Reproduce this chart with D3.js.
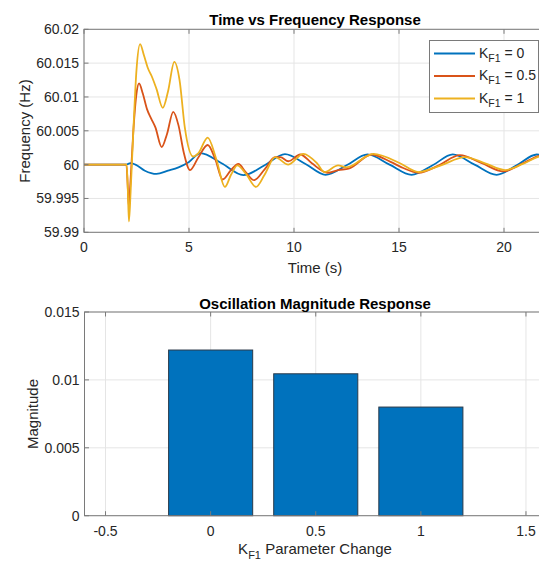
<!DOCTYPE html>
<html>
<head>
<meta charset="utf-8">
<script src="https://cdn.jsdelivr.net/npm/d3@7"></script>
<style>
  html, body { margin: 0; padding: 0; background: #fff; }
  svg { display: block; font-family: "Liberation Sans", Arial, Helvetica, sans-serif; }
</style>
</head>
<body>
<svg id="fig" width="539" height="563"></svg>
<script>
// ---- Frequency response for three K_F1 settings (time in s, frequency in Hz) ----
const timeKF0 = [0, 2.0, 2.1, 2.2, 2.45, 2.9, 3.45, 4.0, 4.5, 5.0, 5.55, 6.55, 7.59, 8.6, 9.57, 10.55, 11.5, 12.5, 13.5, 14.55, 15.6, 16.6, 17.56, 18.6, 19.65, 20.6, 21.56, 22];
const freqKF0 = [60, 60, 60.0001, 60.00022, 60.0000, 59.9991, 59.99862, 59.9991, 59.9996, 60.0004, 60.0017, 60.0002, 59.99845, 59.9999, 60.00155, 60.0001, 59.9985, 59.9999, 60.00152, 60.0000, 59.9985, 59.9999, 60.00152, 60.0000, 59.9985, 59.9999, 60.0015, 60.0013];

const timeKF05 = [0, 2.02, 2.08, 2.13, 2.2, 2.35, 2.5, 2.62, 2.8, 3.0, 3.2, 3.4, 3.7, 3.95, 4.25, 4.5, 4.75, 5.05, 5.45, 5.89, 6.25, 6.6, 7.0, 7.35, 7.7, 8.1, 8.6, 9.1, 9.35, 9.73, 10.3, 10.85, 11.6, 12.1, 12.6, 13.7, 14.6, 15.2, 15.92, 16.9, 17.9, 18.95, 19.97, 20.9, 21.7, 22];
const freqKF05 = [60, 60, 59.997, 59.9939, 59.9968, 60.005, 60.0105, 60.012, 60.0105, 60.0082, 60.0068, 60.0055, 60.0026, 60.0045, 60.0078, 60.0058, 60.0018, 59.9992, 60.0011, 60.0029, 60.0008, 59.9978, 59.9992, 60.0001, 59.9989, 59.9977, 59.9993, 60.0011, 60.0011, 60.0005, 60.0015, 60.0002, 59.9988, 59.9992, 59.9994, 60.0015, 60.0004, 59.9995, 59.9988, 59.9999, 60.0014, 60.0002, 59.9990, 60.0002, 60.0013, 60.0014];

const timeKF1 = [0, 2.03, 2.09, 2.14, 2.22, 2.35, 2.5, 2.67, 2.85, 3.05, 3.22, 3.45, 3.75, 4.0, 4.3, 4.55, 4.8, 5.2, 5.45, 5.89, 6.3, 6.71, 7.0, 7.3, 7.7, 8.19, 8.6, 9.1, 9.73, 10.44, 11.1, 11.45, 12.1, 12.5, 13.78, 15.05, 15.92, 17.0, 18.14, 19.1, 20.05, 20.9, 21.7, 22];
const freqKF1 = [60, 60, 59.996, 59.9916, 59.996, 60.005, 60.014, 60.0178, 60.0162, 60.0142, 60.0131, 60.0112, 60.0084, 60.0108, 60.0152, 60.0125, 60.0055, 60.0012, 60.0017, 60.004, 60.0008, 59.9967, 59.9985, 59.9999, 59.9987, 59.9967, 59.9985, 60.0011, 60.0000, 60.0016, 60.0002, 59.9989, 59.9999, 59.9996, 60.0016, 60.0002, 59.9989, 59.9999, 60.0011, 60.0002, 59.9992, 60.0001, 60.0012, 60.0013];

const seriesLabels = ["0", "0.5", "1"];
const seriesColors = ["#0072BD", "#D95319", "#EDB120"];

const timeTicks = [0, 5, 10, 15, 20];
const freqTicks = [59.99, 59.995, 60, 60.005, 60.01, 60.015, 60.02];
const freqTickLabels = ["59.99", "59.995", "60", "60.005", "60.01", "60.015", "60.02"];

// ---- Oscillation magnitude per K_F1 ----
const kf1Values = [0, 0.5, 1];
const magnitudes = [0.0122, 0.01045, 0.0080];
const kTicks = [-0.5, 0, 0.5, 1, 1.5];
const kTickLabels = ["-0.5", "0", "0.5", "1", "1.5"];
const magTicks = [0, 0.005, 0.01, 0.015];
const magTickLabels = ["0", "0.005", "0.01", "0.015"];

const svg = d3.select("#fig");
const axisColor = "#262626";
const boxColor = "#7a7a7a";
const gridColor = "#e5e5e5";
const tickLen = 4.5;

svg.append("rect").attr("width", 539).attr("height", 563).attr("fill", "#fff");

// Light grid lines behind the data.
function drawGrid(g, x, y, xt, yt) {
  const [x0, x1] = x.range();
  const [y0, y1] = y.range(); // y0 bottom, y1 top
  g.append("g").selectAll("line").data(xt).join("line")
    .attr("x1", d => x(d)).attr("x2", d => x(d)).attr("y1", y0).attr("y2", y1)
    .attr("stroke", gridColor).attr("stroke-width", 1);
  g.append("g").selectAll("line").data(yt).join("line")
    .attr("x1", x0).attr("x2", x1).attr("y1", d => y(d)).attr("y2", d => y(d))
    .attr("stroke", gridColor).attr("stroke-width", 1);
}

// Box outline, inward ticks on all four sides, and tick labels.
function drawBoxAndTicks(g, x, y, xt, xtl, yt, ytl) {
  const [x0, x1] = x.range();
  const [y0, y1] = y.range();
  const tk = g.append("g").attr("stroke", boxColor).attr("stroke-width", 1);
  tk.append("g").selectAll("line").data(xt).join("line")
    .attr("x1", d => x(d)).attr("x2", d => x(d)).attr("y1", y0).attr("y2", y0 - tickLen);
  tk.append("g").selectAll("line").data(xt).join("line")
    .attr("x1", d => x(d)).attr("x2", d => x(d)).attr("y1", y1).attr("y2", y1 + tickLen);
  tk.append("g").selectAll("line").data(yt).join("line")
    .attr("x1", x0).attr("x2", x0 + tickLen).attr("y1", d => y(d)).attr("y2", d => y(d));
  tk.append("g").selectAll("line").data(yt).join("line")
    .attr("x1", x1).attr("x2", x1 - tickLen).attr("y1", d => y(d)).attr("y2", d => y(d));
  g.append("rect").attr("x", x0).attr("y", y1).attr("width", x1 - x0).attr("height", y0 - y1)
    .attr("fill", "none").attr("stroke", boxColor).attr("stroke-width", 1);

  g.append("g").selectAll("text").data(xt).join("text")
    .attr("x", d => x(d)).attr("y", y0 + 20)
    .attr("text-anchor", "middle").attr("font-size", 14).attr("fill", axisColor)
    .text((d, i) => xtl[i]);
  g.append("g").selectAll("text").data(yt).join("text")
    .attr("x", x0 - 5).attr("y", d => y(d) + 5)
    .attr("text-anchor", "end").attr("font-size", 14).attr("fill", axisColor)
    .text((d, i) => ytl[i]);
}

// ================= Top: time vs frequency =================
const xT = d3.scaleLinear().domain([0, 22]).range([84, 546]);
const yT = d3.scaleLinear().domain([59.99, 60.02]).range([232.3, 29.3]);
const topPanel = svg.append("g");
drawGrid(topPanel, xT, yT, timeTicks, freqTicks);

topPanel.append("clipPath").attr("id", "clipTop").append("rect")
  .attr("x", 84).attr("y", 29.3).attr("width", 462).attr("height", 203);

const seriesData = [
  d3.zip(timeKF0, freqKF0),
  d3.zip(timeKF05, freqKF05),
  d3.zip(timeKF1, freqKF1)
];
const line = d3.line().x(d => xT(d[0])).y(d => yT(d[1])).curve(d3.curveMonotoneX);
topPanel.append("g").attr("clip-path", "url(#clipTop)")
  .selectAll("path").data(seriesData).join("path")
  .attr("d", line).attr("fill", "none")
  .attr("stroke", (d, i) => seriesColors[i]).attr("stroke-width", 1.8)
  .attr("stroke-linejoin", "round");

drawBoxAndTicks(topPanel, xT, yT, timeTicks, timeTicks.map(String), freqTicks, freqTickLabels);

topPanel.append("text").attr("x", 315).attr("y", 25).attr("text-anchor", "middle")
  .attr("font-size", 15).attr("font-weight", "bold").attr("fill", "#000")
  .text("Time vs Frequency Response");
topPanel.append("text").attr("x", 315).attr("y", 273).attr("text-anchor", "middle")
  .attr("font-size", 15).attr("fill", axisColor).text("Time (s)");
topPanel.append("text").attr("transform", "translate(30,131) rotate(-90)")
  .attr("text-anchor", "middle").attr("font-size", 15).attr("fill", axisColor)
  .text("Frequency (Hz)");

// legend
const leg = topPanel.append("g");
leg.append("rect").attr("x", 429.5).attr("y", 40.5).attr("width", 109).attr("height", 72)
  .attr("fill", "#fff").attr("stroke", boxColor).attr("stroke-width", 1);
seriesLabels.forEach((lab, i) => {
  const yy = 53.5 + i * 22.5;
  leg.append("line").attr("x1", 434).attr("x2", 475).attr("y1", yy).attr("y2", yy)
    .attr("stroke", seriesColors[i]).attr("stroke-width", 1.8);
  const t = leg.append("text").attr("x", 479).attr("y", yy + 4).attr("font-size", 14).attr("fill", axisColor);
  t.append("tspan").text("K");
  t.append("tspan").attr("dy", 4).attr("font-size", 10.5).text("F1");
  t.append("tspan").attr("dy", -4).text(" = " + lab);
});

// ================= Bottom: oscillation magnitude =================
const xB = d3.scaleLinear().domain([-0.6, 1.6]).range([84.5, 547]);
const yB = d3.scaleLinear().domain([0, 0.015]).range([515.7, 312]);
const bottomPanel = svg.append("g");
drawGrid(bottomPanel, xB, yB, kTicks, magTicks);

const barHalf = 0.2;
bottomPanel.append("g").selectAll("rect").data(kf1Values).join("rect")
  .attr("x", d => xB(d - barHalf))
  .attr("width", d => xB(d + barHalf) - xB(d - barHalf))
  .attr("y", (d, i) => yB(magnitudes[i]))
  .attr("height", (d, i) => yB(0) - yB(magnitudes[i]))
  .attr("fill", "#0072BD").attr("stroke", "#2a3a4a").attr("stroke-width", 1);

drawBoxAndTicks(bottomPanel, xB, yB, kTicks, kTickLabels, magTicks, magTickLabels);

bottomPanel.append("text").attr("x", 315).attr("y", 309).attr("text-anchor", "middle")
  .attr("font-size", 15).attr("font-weight", "bold").attr("fill", "#000")
  .text("Oscillation Magnitude Response");
const xl = bottomPanel.append("text").attr("x", 315).attr("y", 554).attr("text-anchor", "middle")
  .attr("font-size", 15).attr("fill", axisColor);
xl.append("tspan").text("K");
xl.append("tspan").attr("dy", 5).attr("font-size", 11).text("F1");
xl.append("tspan").attr("dy", -5).text(" Parameter Change");
bottomPanel.append("text").attr("transform", "translate(38,414) rotate(-90)")
  .attr("text-anchor", "middle").attr("font-size", 15).attr("fill", axisColor)
  .text("Magnitude");
</script>
</body>
</html>
